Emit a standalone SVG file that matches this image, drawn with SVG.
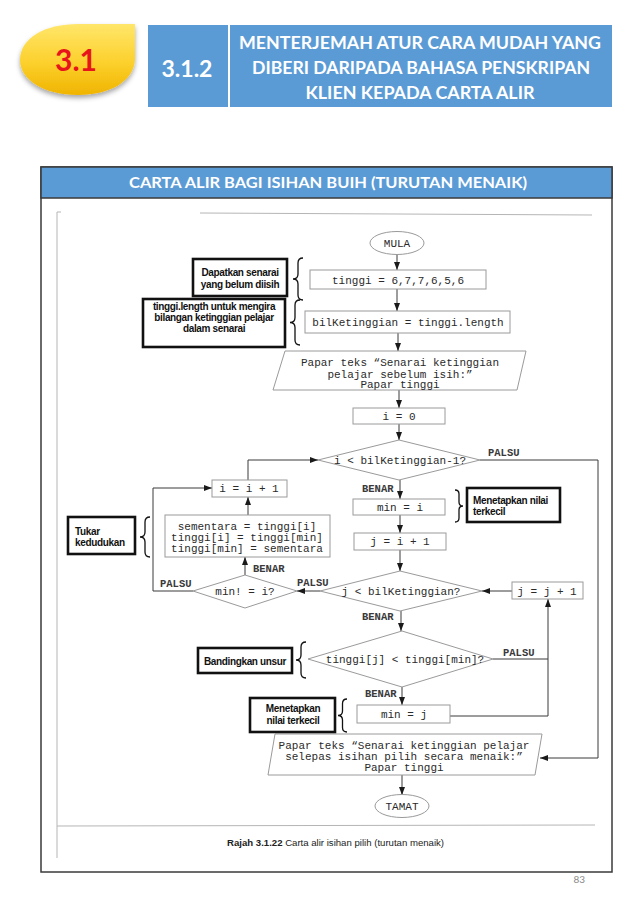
<svg xmlns="http://www.w3.org/2000/svg" width="638" height="922" viewBox="0 0 638 922">
<defs>
<linearGradient id="gy" x1="0" y1="0" x2="0" y2="1">
<stop offset="0" stop-color="#ffe66a"/>
<stop offset="0.55" stop-color="#fcd02c"/>
<stop offset="1" stop-color="#f0b400"/>
</linearGradient>
<filter id="sh" x="-20%" y="-20%" width="140%" height="150%">
<feDropShadow dx="0" dy="3" stdDeviation="2.5" flood-color="#000" flood-opacity="0.35"/>
</filter>
<marker id="ar" markerWidth="8" markerHeight="6" refX="8" refY="3" orient="auto" markerUnits="userSpaceOnUse">
<path d="M0,0 L8,3 L0,6 z" fill="#1a1a1a"/>
</marker>
<style>
.hd{font-family:Lato,"Open Sans","Liberation Sans",sans-serif;font-weight:700;fill:#fff;text-anchor:middle}
.sh{fill:#fff;stroke:#9a9a9a;stroke-width:1}
.mo{font-family:"Liberation Mono","Courier New",monospace;font-size:11px;fill:#2a2a2a;text-anchor:middle}
.lb{font-family:"Liberation Mono","Courier New",monospace;font-size:10.5px;font-weight:700;fill:#3a3a3a}
.cn{fill:none;stroke:#3a3a3a;stroke-width:1}
.ca{fill:none;stroke:#3a3a3a;stroke-width:1;marker-end:url(#ar)}
.an{fill:#fff;stroke:#111;stroke-width:2.6}
.at{font-family:"Liberation Sans",Arial,sans-serif;font-size:10px;font-weight:700;fill:#111;letter-spacing:-0.35px}
.br{fill:none;stroke:#111;stroke-width:1.3}
.sc{fill:none;stroke:#b5b5b5;stroke-width:1}
</style>
</defs>
<rect x="0" y="0" width="638" height="922" fill="#fff"/>

<g id="badge">
<path d="M135,24 V58 C135,81 110,95 78,95 C44,95 20,80 20,60 C20,38 45,24 78,24 Z" fill="url(#gy)" filter="url(#sh)"/>
<text x="76" y="71" font-family="Lato,'Open Sans','Liberation Sans',sans-serif" font-size="30" font-weight="700" fill="#e8141b" text-anchor="middle">3.1</text>
</g>

<g id="title">
<rect x="148" y="25" width="464" height="82" fill="#5b9bd5"/>
<line x1="229" y1="25" x2="229" y2="107" stroke="#fff" stroke-width="2"/>
<text class="hd" x="187" y="77" font-size="23">3.1.2</text>
<text class="hd" x="420" y="49" font-size="16.5" textLength="362" lengthAdjust="spacingAndGlyphs">MENTERJEMAH ATUR CARA MUDAH YANG</text>
<text class="hd" x="421" y="74" font-size="16.5" textLength="338" lengthAdjust="spacingAndGlyphs">DIBERI DARIPADA BAHASA PENSKRIPAN</text>
<text class="hd" x="420" y="99" font-size="16.5" textLength="229" lengthAdjust="spacingAndGlyphs">KLIEN KEPADA  CARTA ALIR</text>
</g>

<g id="panel">
<rect x="41" y="167" width="571" height="705" fill="#fff" stroke="#3a3a3a" stroke-width="1.5"/>
<rect x="41" y="167" width="571" height="31" fill="#5b9bd5" stroke="#3a3a3a" stroke-width="1.5"/>
<text class="hd" x="328" y="188" font-size="15" textLength="398" lengthAdjust="spacingAndGlyphs">CARTA ALIR BAGI ISIHAN BUIH (TURUTAN MENAIK)</text>
<text x="585" y="883" font-family="Lato,'Open Sans','Liberation Sans',sans-serif" font-size="10" fill="#8a8a8a" text-anchor="end">83</text>
</g>

<g id="scan">
<line class="sc" x1="200" y1="213" x2="592" y2="215"/>
<line class="sc" x1="57" y1="212" x2="57" y2="858"/>
<line class="sc" x1="57" y1="212" x2="61" y2="212"/>
<line class="sc" x1="57" y1="826" x2="595" y2="825"/>
<text x="227" y="846" font-family="'Liberation Sans',Arial,sans-serif" font-size="9.6" fill="#222"><tspan font-weight="700">Rajah 3.1.22</tspan>  Carta alir isihan pilih (turutan menaik)</text>
</g>

<g id="connectors">
<line class="ca" x1="397" y1="255" x2="397" y2="270"/>
<line class="ca" x1="397" y1="289" x2="397" y2="311"/>
<line class="ca" x1="398" y1="333" x2="398" y2="351"/>
<line class="ca" x1="399" y1="390" x2="399" y2="408"/>
<line class="ca" x1="399" y1="424" x2="399" y2="440"/>
<line class="ca" x1="400" y1="480" x2="400" y2="499"/>
<line class="ca" x1="400" y1="515" x2="400" y2="533"/>
<line class="ca" x1="400" y1="550" x2="400" y2="571"/>
<line class="ca" x1="401" y1="611" x2="401" y2="631"/>
<line class="ca" x1="402" y1="687" x2="402" y2="705"/>
<polyline class="ca" points="450,716 548,716 548,599"/>
<line class="cn" x1="493" y1="659" x2="548" y2="659"/>
<line class="ca" x1="512" y1="591" x2="482" y2="591"/>
<line class="ca" x1="320" y1="591" x2="297" y2="591"/>
<line class="ca" x1="245" y1="575" x2="245" y2="557"/>
<line class="ca" x1="248" y1="515" x2="248" y2="497"/>
<polyline class="ca" points="248,480 248,460 318,460"/>
<polyline class="ca" points="193,591 153,591 153,488 212,488"/>
<polyline class="ca" points="480,460 598,460 598,758 540,758"/>
<line class="ca" x1="402" y1="775" x2="402" y2="795"/>
<text class="lb" x="488" y="456">PALSU</text>
<text class="lb" x="362" y="491.5">BENAR</text>
<text class="lb" x="297" y="585.5">PALSU</text>
<text class="lb" x="362" y="620">BENAR</text>
<text class="lb" x="503" y="655.5">PALSU</text>
<text class="lb" x="365" y="696.5">BENAR</text>
<text class="lb" x="253" y="571.5">BENAR</text>
<text class="lb" x="160" y="586.5">PALSU</text>
</g>

<g id="mula">
<ellipse class="sh" cx="397" cy="243" rx="27" ry="11.5"/>
<text class="mo" x="397" y="246.5" font-size="10">MULA</text>
</g>
<g id="tinggi">
<rect class="sh" x="310" y="270" width="176" height="19"/>
<text class="mo" x="398" y="283.5">tinggi = 6,7,7,6,5,6</text>
</g>
<g id="bil">
<rect class="sh" x="305" y="311" width="205" height="22"/>
<text class="mo" x="408" y="325.5">bilKetinggian = tinggi.length</text>
</g>
<g id="papar1">
<polygon class="sh" points="285,351 526,351 517,390 273,390"/>
<text class="mo" x="400" y="366">Papar teks “Senarai ketinggian</text>
<text class="mo" x="400" y="377.5">pelajar sebelum isih:”</text>
<text class="mo" x="400" y="388">Papar tinggi</text>
</g>
<g id="i0">
<rect class="sh" x="353" y="408" width="92" height="16"/>
<text class="mo" x="399" y="419.5">i = 0</text>
</g>
<g id="d1">
<polygon class="sh" points="399,440 480,460 399,480 318,460"/>
<text class="mo" x="400" y="463.5">i &lt; bilKetinggian-1?</text>
</g>
<g id="mini">
<rect class="sh" x="353" y="499" width="92" height="16"/>
<text class="mo" x="400" y="510.5">min = i</text>
</g>
<g id="ji1">
<rect class="sh" x="354" y="533" width="92" height="17"/>
<text class="mo" x="400" y="545">j = i + 1</text>
</g>
<g id="d2">
<polygon class="sh" points="400,571 482,591 400,611 320,591"/>
<text class="mo" x="401" y="594.5">j &lt; bilKetinggian?</text>
</g>
<g id="jj1">
<rect class="sh" x="512" y="582" width="71" height="17"/>
<text class="mo" x="547" y="594.5">j = j + 1</text>
</g>
<g id="dmin">
<polygon class="sh" points="245,575 297,591 245,608 193,591"/>
<text class="mo" x="245" y="594.5">min! = i?</text>
</g>
<g id="swap">
<rect class="sh" x="165" y="515" width="165" height="42"/>
<text class="mo" x="247" y="529.5">sementara = tinggi[i]</text>
<text class="mo" x="247" y="541">tinggi[i] = tinggi[min]</text>
<text class="mo" x="247" y="551.5">tinggi[min] = sementara</text>
</g>
<g id="ii1">
<rect class="sh" x="212" y="480" width="75" height="17"/>
<text class="mo" x="249" y="492">i = i + 1</text>
</g>
<g id="d3">
<polygon class="sh" points="402,631 493,659 402,687 308,659"/>
<text class="mo" x="405" y="662.5">tinggi[j] &lt; tinggi[min]?</text>
</g>
<g id="minj">
<rect class="sh" x="357" y="705" width="93" height="18"/>
<text class="mo" x="404" y="717.5">min = j</text>
</g>
<g id="papar2">
<polygon class="sh" points="275,734 542,734 535,775 268,775"/>
<text class="mo" x="404" y="748.5">Papar teks “Senarai ketinggian pelajar</text>
<text class="mo" x="404" y="760">selepas isihan pilih secara menaik:”</text>
<text class="mo" x="404" y="770.5">Papar tinggi</text>
</g>
<g id="tamat">
<ellipse class="sh" cx="402" cy="806" rx="27" ry="11.5"/>
<text class="mo" x="402" y="809.5" font-size="10">TAMAT</text>
</g>

<g id="noteA">
<rect class="an" x="193" y="259" width="94" height="37"/>
<text class="at" x="240" y="276" text-anchor="middle">Dapatkan senarai</text>
<text class="at" x="240" y="288" text-anchor="middle">yang belum diisih</text>
<path class="br" d="M303,258 Q298,258 298,263 L298,274 Q298,279 293,279 Q298,279 298,284 L298,295 Q298,300 303,300"/>
</g>
<g id="noteB">
<rect class="an" x="143" y="299" width="142" height="48"/>
<text class="at" x="214" y="310" text-anchor="middle">tinggi.length untuk mengira</text>
<text class="at" x="214" y="321" text-anchor="middle">bilangan ketinggian pelajar</text>
<text class="at" x="214" y="332" text-anchor="middle">dalam senarai</text>
<path class="br" d="M300,300 Q295,300 295,305 L295,317.5 Q295,322.5 290,322.5 Q295,322.5 295,327.5 L295,340 Q295,345 300,345"/>
</g>
<g id="noteC">
<rect class="an" x="467" y="488" width="93" height="34"/>
<text class="at" x="473" y="504">Menetapkan nilai</text>
<text class="at" x="473" y="515">terkecil</text>
<path class="br" d="M455,490 Q459,490 459,494 L459,502 Q459,506 463,506 Q459,506 459,510 L459,518 Q459,522 455,522"/>
</g>
<g id="noteD">
<rect class="an" x="68" y="517" width="67" height="37"/>
<text class="at" x="75" y="535">Tukar</text>
<text class="at" x="75" y="546">kedudukan</text>
<path class="br" d="M150,517 Q145,517 145,522 L145,532 Q145,537 140,537 Q145,537 145,542 L145,552 Q145,557 150,557"/>
</g>
<g id="noteE">
<rect class="an" x="198" y="648" width="94" height="25"/>
<text class="at" x="245" y="664.5" text-anchor="middle">Bandingkan unsur</text>
<path class="br" d="M306,642 Q301,642 301,647 L301,655 Q301,660 296,660 Q301,660 301,665 L301,673 Q301,678 306,678"/>
</g>
<g id="noteF">
<rect class="an" x="250" y="698" width="85" height="34"/>
<text class="at" x="293" y="712" text-anchor="middle">Menetapkan</text>
<text class="at" x="293" y="724" text-anchor="middle">nilai terkecil</text>
<path class="br" d="M347,699 Q342.5,699 342.5,703.5 L342.5,711 Q342.5,715.5 338,715.5 Q342.5,715.5 342.5,720 L342.5,727.5 Q342.5,732 347,732"/>
</g>
</svg>
